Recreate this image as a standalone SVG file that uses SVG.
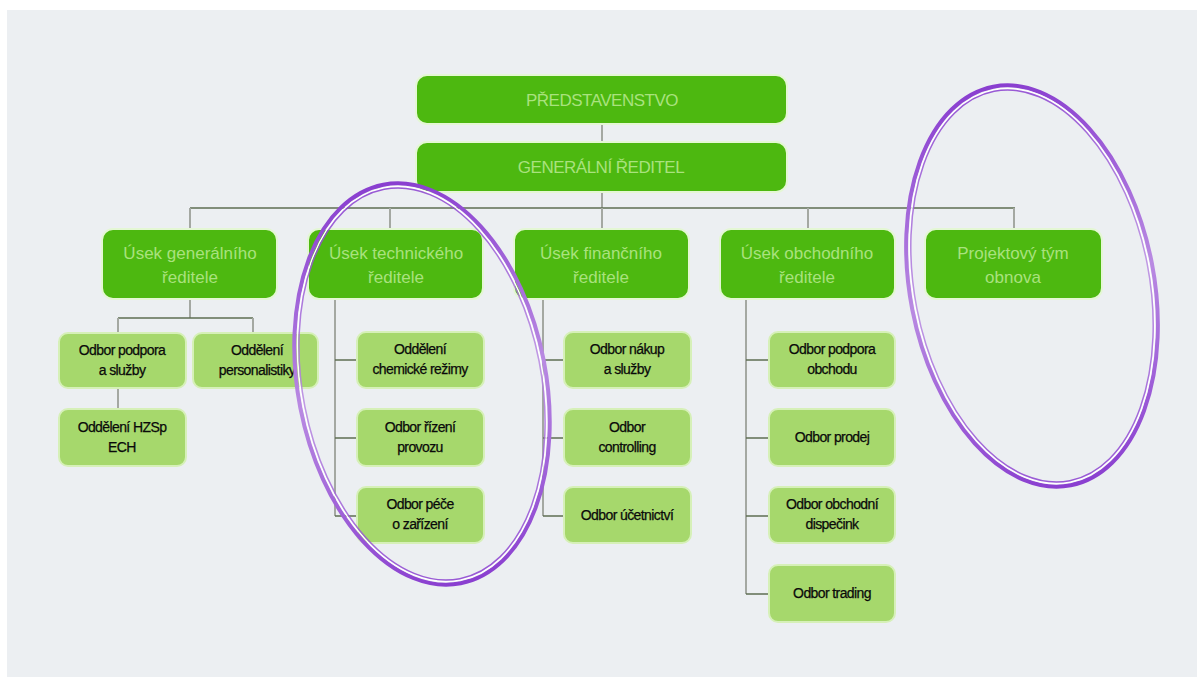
<svg xmlns="http://www.w3.org/2000/svg" width="1202" height="684" viewBox="0 0 1202 684">
<defs>
<linearGradient id="pg" x1="0" y1="0" x2="0" y2="1">
<stop offset="0" stop-color="#8A3FD0"/>
<stop offset="0.5" stop-color="#B98AE2"/>
<stop offset="1" stop-color="#8A3FD0"/>
</linearGradient>
<style>
.bg{fill:#ECEFF2}
.dk{fill:#4DB810;stroke:#E4F7D4;stroke-width:2}
.lt{fill:#A6D86C;stroke:#D6F0B8;stroke-width:2}
.tdk{font-family:"Liberation Sans",Arial,sans-serif;font-size:17px;fill:#A9E27E;text-anchor:middle}
.ttop{font-family:"Liberation Sans",Arial,sans-serif;font-size:17px;fill:#A9E27E;text-anchor:middle;letter-spacing:-0.5px}
.tlt{font-family:"Liberation Sans",Arial,sans-serif;font-size:14px;fill:#0A0A0A;text-anchor:middle;letter-spacing:-0.6px;stroke:#0A0A0A;stroke-width:0.25}
.v{stroke:#A4A8A2;stroke-width:2;fill:none}
.h{stroke:#5E6E52;stroke-width:1.5;fill:none}
.e1{fill:none;stroke:url(#pg);stroke-width:4}
.e2{fill:none;stroke:#FFFFFF;stroke-width:1.5}
.e3{fill:none;stroke:url(#pg);stroke-width:1.5;opacity:0.85}
</style>
</defs>
<rect x="0" y="0" width="1202" height="684" fill="#FFFFFF"/>
<rect class="bg" x="7" y="10" width="1190" height="667"/>

<g id="connectors">
<line class="v" x1="602" y1="124" x2="602" y2="142"/>
<line class="v" x1="602" y1="192" x2="602" y2="208"/>
<line class="h" x1="190" y1="208" x2="1015" y2="208"/>
<line class="v" x1="190" y1="208" x2="190" y2="229"/>
<line class="v" x1="390" y1="208" x2="390" y2="229"/>
<line class="v" x1="602" y1="208" x2="602" y2="229"/>
<line class="v" x1="808" y1="208" x2="808" y2="229"/>
<line class="v" x1="1014" y1="208" x2="1014" y2="229"/>
<line class="v" x1="190" y1="299" x2="190" y2="318"/>
<line class="h" x1="118" y1="318" x2="253" y2="318"/>
<line class="v" x1="118" y1="318" x2="118" y2="333"/>
<line class="v" x1="253" y1="318" x2="253" y2="333"/>
<line class="v" x1="118" y1="388" x2="118" y2="409"/>
<line class="v" x1="335" y1="299" x2="335" y2="516"/>
<line class="h" x1="335" y1="360" x2="357" y2="360"/>
<line class="h" x1="335" y1="438" x2="357" y2="438"/>
<line class="h" x1="335" y1="516" x2="357" y2="516"/>
<line class="v" x1="543" y1="299" x2="543" y2="516"/>
<line class="h" x1="543" y1="360" x2="564" y2="360"/>
<line class="h" x1="543" y1="438" x2="564" y2="438"/>
<line class="h" x1="543" y1="516" x2="564" y2="516"/>
<line class="v" x1="746" y1="299" x2="746" y2="594"/>
<line class="h" x1="746" y1="360" x2="769" y2="360"/>
<line class="h" x1="746" y1="438" x2="769" y2="438"/>
<line class="h" x1="746" y1="516" x2="769" y2="516"/>
<line class="h" x1="746" y1="594" x2="769" y2="594"/>
</g>

<g id="n-predstavenstvo">
<rect class="dk" x="416" y="75" width="371" height="49" rx="11"/>
<text class="ttop" x="602" y="106">PŘEDSTAVENSTVO</text>
</g>
<g id="n-generalni">
<rect class="dk" x="416" y="142" width="371" height="50" rx="11"/>
<text class="ttop" x="601" y="173">GENERÁLNÍ ŘEDITEL</text>
</g>

<g id="n-usek-gen">
<rect class="dk" x="102" y="229" width="175" height="70" rx="11"/>
<text class="tdk" x="190" y="259">Úsek generálního</text>
<text class="tdk" x="190" y="283">ředitele</text>
</g>
<g id="n-usek-tech">
<rect class="dk" x="308" y="229" width="175" height="70" rx="11"/>
<text class="tdk" x="396" y="259">Úsek technického</text>
<text class="tdk" x="396" y="283">ředitele</text>
</g>
<g id="n-usek-fin">
<rect class="dk" x="514" y="229" width="175" height="70" rx="11"/>
<text class="tdk" x="601" y="259">Úsek finančního</text>
<text class="tdk" x="601" y="283">ředitele</text>
</g>
<g id="n-usek-obch">
<rect class="dk" x="720" y="229" width="175" height="70" rx="11"/>
<text class="tdk" x="807" y="259">Úsek obchodního</text>
<text class="tdk" x="807" y="283">ředitele</text>
</g>
<g id="n-projekt">
<rect class="dk" x="925" y="229" width="177" height="70" rx="11"/>
<text class="tdk" x="1013" y="259">Projektový tým</text>
<text class="tdk" x="1013" y="283">obnova</text>
</g>

<g id="n-podpora-sluzby">
<rect class="lt" x="59" y="333" width="127" height="55" rx="9"/>
<text class="tlt" x="122" y="355">Odbor podpora</text>
<text class="tlt" x="122" y="375">a služby</text>
</g>
<g id="n-personalistika">
<rect class="lt" x="193" y="333" width="125" height="55" rx="9"/>
<text class="tlt" x="257" y="355">Oddělení</text>
<text class="tlt" x="257" y="375">personalistiky</text>
</g>
<g id="n-hzsp">
<rect class="lt" x="59" y="409" width="127" height="57" rx="9"/>
<text class="tlt" x="122" y="432">Oddělení HZSp</text>
<text class="tlt" x="122" y="452">ECH</text>
</g>

<g id="n-chem">
<rect class="lt" x="357" y="332" width="127" height="56" rx="9"/>
<text class="tlt" x="420" y="354">Oddělení</text>
<text class="tlt" x="420" y="374">chemické režimy</text>
</g>
<g id="n-rizeni">
<rect class="lt" x="357" y="409" width="127" height="57" rx="9"/>
<text class="tlt" x="420" y="432">Odbor řízení</text>
<text class="tlt" x="420" y="452">provozu</text>
</g>
<g id="n-pece">
<rect class="lt" x="357" y="487" width="127" height="56" rx="9"/>
<text class="tlt" x="420" y="509">Odbor péče</text>
<text class="tlt" x="420" y="529">o zařízení</text>
</g>

<g id="n-nakup">
<rect class="lt" x="564" y="332" width="127" height="56" rx="9"/>
<text class="tlt" x="627" y="354">Odbor nákup</text>
<text class="tlt" x="627" y="374">a služby</text>
</g>
<g id="n-controlling">
<rect class="lt" x="564" y="409" width="127" height="57" rx="9"/>
<text class="tlt" x="627" y="432">Odbor</text>
<text class="tlt" x="627" y="452">controlling</text>
</g>
<g id="n-ucetnictvi">
<rect class="lt" x="564" y="487" width="127" height="56" rx="9"/>
<text class="tlt" x="627" y="520">Odbor účetnictví</text>
</g>

<g id="n-podpora-obchodu">
<rect class="lt" x="769" y="332" width="126" height="56" rx="9"/>
<text class="tlt" x="832" y="354">Odbor podpora</text>
<text class="tlt" x="832" y="374">obchodu</text>
</g>
<g id="n-prodej">
<rect class="lt" x="769" y="409" width="126" height="57" rx="9"/>
<text class="tlt" x="832" y="442">Odbor prodej</text>
</g>
<g id="n-dispecink">
<rect class="lt" x="769" y="487" width="126" height="56" rx="9"/>
<text class="tlt" x="832" y="509">Odbor obchodní</text>
<text class="tlt" x="832" y="529">dispečink</text>
</g>
<g id="n-trading">
<rect class="lt" x="769" y="565" width="126" height="57" rx="9"/>
<text class="tlt" x="832" y="598">Odbor trading</text>
</g>

<g id="highlight-tech" transform="translate(422 384) rotate(-11)">
<ellipse class="e1" cx="0" cy="0" rx="124" ry="203"/>
<ellipse class="e2" cx="0" cy="0" rx="120.8" ry="199.8"/>
<ellipse class="e3" cx="0" cy="0" rx="119.3" ry="198.3"/>
</g>
<g id="highlight-projekt" transform="translate(1032 286) rotate(-11)">
<ellipse class="e1" cx="0" cy="0" rx="122" ry="203"/>
<ellipse class="e2" cx="0" cy="0" rx="118.8" ry="199.8"/>
<ellipse class="e3" cx="0" cy="0" rx="117.3" ry="198.3"/>
</g>
</svg>
